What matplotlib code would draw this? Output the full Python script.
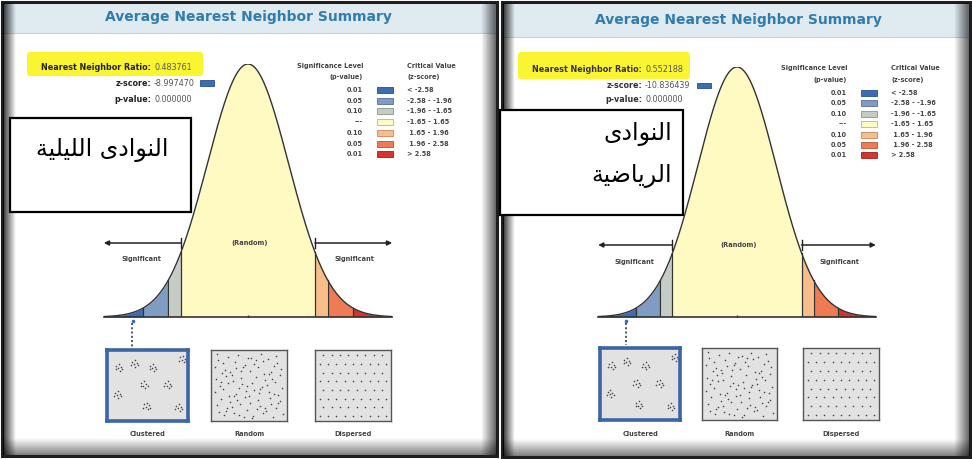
import numpy as np
import matplotlib
matplotlib.use("Agg")
import matplotlib.pyplot as plt
from matplotlib.patches import Rectangle, FancyBboxPatch


TITLE = "Average Nearest Neighbor Summary"
NN_RATIOS = [0.483761, 0.552188]
Z_SCORES = [-8.997470, -10.836439]
P_VALUES = [0.000000, 0.000000]
BOX_LABELS = [["النوادى الليلية"], ["النوادى", "الرياضية"]]

SIG_LEVELS = ["0.01", "0.05", "0.10", "---", "0.10", "0.05", "0.01"]
CRIT_LABELS = ["< -2.58", "-2.58 - -1.96", "-1.96 - -1.65", "-1.65 - 1.65",
               " 1.65 - 1.96", " 1.96 - 2.58", "> 2.58"]
CRIT_BREAKS = [-2.58, -1.96, -1.65, 1.65, 1.96, 2.58]
BIN_COLORS = ["#3a6db5", "#7f9cc3", "#c5ccc6", "#fffac2",
              "#f9bd8a", "#ee7b52", "#d5342a"]
BIN_EDGES = ["#28508a", "#566f93", "#8c928d", "#b8b48a",
             "#c08a5f", "#b45638", "#9a2019"]
PATTERN_LABELS = ["Clustered", "Random", "Dispersed"]

W, H = 972, 459
TITLE_COLOR = "#2f7db0"
TEXT_GRAY = "#555555"

# layout of the two screenshots, in pixels
PANELS = [
    dict(x0=2, x1=497, y1=456, band=33, title_x=248, title_y=17,
         hl=(27, 52, 203, 76), lab_x=151, rows=(67, 83, 99), zbox=(200, 80, 214, 86),
         box=(10, 118, 191, 212), text_x=102, text_ys=[150], text_ha="center",
         cx=248, s=40.6, yb=317, yp=64, arrow_y=243, sig_y=259,
         leg_x=363, leg_y0=90, leg_dy=10.7, head_y=(66, 77),
         thumbs=[(107, 188), (211, 287), (315, 391)], thumb_y=(350, 421),
         thumb_label_y=434, dot_x=132),
    dict(x0=502, x1=970, y1=457, band=37, title_x=738, title_y=20,
         hl=(518, 52, 690, 79), lab_x=642, rows=(70, 85, 100), zbox=(697, 83, 711, 88),
         box=(500, 110, 683, 215), text_x=672, text_ys=[134, 176], text_ha="right",
         cx=737, s=39.1, yb=317, yp=67, arrow_y=245, sig_y=262,
         leg_x=847, leg_y0=93, leg_dy=10.4, head_y=(68, 80),
         thumbs=[(600, 680), (702, 777), (803, 879)], thumb_y=(348, 420),
         thumb_label_y=434, dot_x=626),
]

# arabic presentation forms: isolated, final, initial, medial
FORMS = {
    "ا": ("\uFE8D", "\uFE8E", None, None),
    "ل": ("\uFEDD", "\uFEDE", "\uFEDF", "\uFEE0"),
    "ن": ("\uFEE5", "\uFEE6", "\uFEE7", "\uFEE8"),
    "و": ("\uFEED", "\uFEEE", None, None),
    "د": ("\uFEA9", "\uFEAA", None, None),
    "ى": ("\uFEEF", "\uFEF0", None, None),
    "ي": ("\uFEF1", "\uFEF2", "\uFEF3", "\uFEF4"),
    "ة": ("\uFE93", "\uFE94", None, None),
    "ر": ("\uFEAD", "\uFEAE", None, None),
    "ض": ("\uFEBD", "\uFEBE", "\uFEBF", "\uFEC0"),
}


def shape_arabic(text):
    out = []
    for i, ch in enumerate(text):
        if ch not in FORMS:
            out.append(ch)
            continue
        prev = text[i - 1] if i > 0 else ""
        nxt = text[i + 1] if i + 1 < len(text) else ""
        join_prev = prev in FORMS and FORMS[prev][2] is not None
        join_next = nxt in FORMS and FORMS[ch][2] is not None
        iso, fin, ini, med = FORMS[ch]
        if join_prev and join_next:
            out.append(med)
        elif join_prev:
            out.append(fin)
        elif join_next:
            out.append(ini)
        else:
            out.append(iso)
    return "".join(reversed(out))


def fig_rect(x0, y0, x1, y1):
    return [x0 / W, 1 - y1 / H, (x1 - x0) / W, (y1 - y0) / H]


def pdf(z):
    return np.exp(-0.5 * z ** 2) / np.sqrt(2 * np.pi)


def shade(ax, x0, y0, x1, y1, direction, a0, a1):
    n = 64
    ramp = np.linspace(a0, a1, n)
    img = np.zeros((1, n, 4)) if direction == "h" else np.zeros((n, 1, 4))
    if direction == "h":
        img[0, :, 3] = ramp
    else:
        img[:, 0, 3] = ramp
    ax.imshow(img, extent=(x0, x1, y1, y0), aspect="auto", interpolation="bilinear",
              zorder=3)


def dot_patterns():
    centers = [(0.14, 0.74), (0.33, 0.80), (0.56, 0.74), (0.93, 0.86), (0.45, 0.50),
               (0.74, 0.50), (0.12, 0.36), (0.48, 0.20), (0.88, 0.18)]
    offsets = [(0, 0), (0.035, 0.02), (-0.025, 0.035), (0.02, -0.035),
               (-0.035, -0.01), (0.01, 0.06), (0.05, -0.01)]
    clustered = np.array([(cx + ox, cy + oy) for cx, cy in centers for ox, oy in offsets])

    def halton(i, b):
        f, r = 1.0, 0.0
        while i > 0:
            f /= b
            r += f * (i % b)
            i //= b
        return r
    rnd = np.array([(0.04 + 0.92 * halton(i, 2), 0.04 + 0.92 * halton(i, 3))
                    for i in range(1, 95)])

    disp = []
    for r in range(8):
        for c in range(9):
            disp.append((0.06 + c * 0.11 + (0.05 if r % 2 else 0), 0.07 + r * 0.122))
    disp = np.array(disp)
    disp = disp[disp[:, 0] < 0.97]
    return [clustered, rnd, disp]


fig = plt.figure(figsize=(W / 100, H / 100), dpi=100)
fig.patch.set_facecolor("white")
bg = fig.add_axes([0, 0, 1, 1])
bg.set_xlim(0, W)
bg.set_ylim(H, 0)
bg.axis("off")

patterns = dot_patterns()

for k, p in enumerate(PANELS):
    x0, x1, y1 = p["x0"], p["x1"], p["y1"]
    y0 = 2
    bg.add_patch(Rectangle((x0, y0), x1 - x0, y1 - y0, facecolor="white",
                           edgecolor="#1e1e1e", lw=2.2, zorder=1))
    bg.add_patch(Rectangle((x0 + 2, y0 + 2), x1 - x0 - 4, p["band"] - y0 - 2,
                           facecolor="#dfeaf1", edgecolor="none", zorder=2))
    bg.plot([x0 + 2, x1 - 2], [p["band"], p["band"]], color="#c3d2db", lw=0.8, zorder=2)
    shade(bg, x0 + 1, y0 + 1, x0 + 13, y1 - 1, "h", 0.8, 0.0)
    shade(bg, x1 - 16, y0 + 1, x1 - 1, y1 - 1, "h", 0.0, 0.6)
    shade(bg, x0 + 1, y1 - 18, x1 - 1, y1 - 1, "v", 0.0, 0.5)

    bg.text(p["title_x"], p["title_y"], TITLE, ha="center", va="center",
            fontsize=10, fontweight="bold", color=TITLE_COLOR, zorder=4)

    hx0, hy0, hx1, hy1 = p["hl"]
    bg.add_patch(FancyBboxPatch((hx0 + 3, hy0 + 3), hx1 - hx0 - 6, hy1 - hy0 - 6,
                                boxstyle="round,pad=3", facecolor="#fbf531",
                                edgecolor="none", zorder=4))

    labels = ["Nearest Neighbor Ratio:", "z-score:", "p-value:"]
    values = [f"{NN_RATIOS[k]:.6f}", f"{Z_SCORES[k]:.6f}", f"{P_VALUES[k]:.6f}"]
    for lab, val, yy in zip(labels, values, p["rows"]):
        bg.text(p["lab_x"], yy, lab, ha="right", va="center", fontsize=5.8,
                fontweight="bold", color="#222222" if k == 0 else "#333333", zorder=5)
        bg.text(p["lab_x"] + 3, yy, val, ha="left", va="center", fontsize=5.8,
                color=TEXT_GRAY, zorder=5)
    z_bin = int(np.searchsorted(CRIT_BREAKS, Z_SCORES[k]))
    zx0, zy0, zx1, zy1 = p["zbox"]
    bg.add_patch(Rectangle((zx0, zy0), zx1 - zx0, zy1 - zy0, facecolor=BIN_COLORS[z_bin],
                           edgecolor=BIN_EDGES[z_bin], lw=0.6, zorder=5))

    # legend
    lx = p["leg_x"]
    bg.text(lx, p["head_y"][0], "Significance Level", ha="right", va="center",
            fontsize=4.7, fontweight="bold", color="#444444", zorder=5)
    bg.text(lx, p["head_y"][1], "(p-value)", ha="right", va="center",
            fontsize=4.7, fontweight="bold", color="#444444", zorder=5)
    bg.text(lx + 44, p["head_y"][0], "Critical Value", ha="left", va="center",
            fontsize=4.7, fontweight="bold", color="#444444", zorder=5)
    bg.text(lx + 44, p["head_y"][1], "(z-score)", ha="left", va="center",
            fontsize=4.7, fontweight="bold", color="#444444", zorder=5)
    for i, (lev, crit) in enumerate(zip(SIG_LEVELS, CRIT_LABELS)):
        yy = p["leg_y0"] + i * p["leg_dy"]
        bg.text(lx, yy, lev, ha="right", va="center", fontsize=4.7,
                fontweight="bold", color="#444444", zorder=5)
        bg.add_patch(Rectangle((lx + 14, yy - 3), 16, 6, facecolor=BIN_COLORS[i],
                               edgecolor=BIN_EDGES[i], lw=0.6, zorder=5))
        bg.text(lx + 44, yy, crit, ha="left", va="center", fontsize=4.7,
                fontweight="bold", color="#444444", zorder=5)

    # bell curve
    zr = 3.55
    cax = fig.add_axes(fig_rect(p["cx"] - zr * p["s"], p["yp"], p["cx"] + zr * p["s"], p["yb"]))
    cax.set_xlim(-zr, zr)
    cax.set_ylim(0, pdf(0))
    cax.axis("off")
    cax.patch.set_alpha(0)
    zz = np.linspace(-zr, zr, 600)
    edges = [-zr] + CRIT_BREAKS + [zr]
    for i in range(len(BIN_COLORS)):
        m = (zz >= edges[i]) & (zz <= edges[i + 1])
        cax.fill_between(zz[m], 0, pdf(zz[m]), color=BIN_COLORS[i], lw=0)
    for b in CRIT_BREAKS:
        cax.plot([b, b], [0, pdf(b)], color="#333333", lw=0.9)
    cax.plot(zz, pdf(zz), color="#333333", lw=1.0)
    cax.plot([-zr, zr], [0, 0], color="#333333", lw=1.2, clip_on=False)
    cax.plot([0], [0], marker="|", color="#333333", ms=3, mew=1)

    ay = pdf(0) * (p["yb"] - p["arrow_y"]) / (p["yb"] - p["yp"])
    sy = pdf(0) * (p["yb"] - p["sig_y"]) / (p["yb"] - p["yp"])
    lo, hi = CRIT_BREAKS[2], CRIT_BREAKS[3]
    cax.annotate("", xy=(-zr, ay), xytext=(lo, ay),
                 arrowprops=dict(arrowstyle="-|>", color="#222222", lw=1.1,
                                 mutation_scale=7, shrinkA=0, shrinkB=0))
    cax.annotate("", xy=(zr, ay), xytext=(hi, ay),
                 arrowprops=dict(arrowstyle="-|>", color="#222222", lw=1.1,
                                 mutation_scale=7, shrinkA=0, shrinkB=0))
    cax.plot([lo, lo], [ay - 0.008, ay + 0.008], color="#222222", lw=1.0)
    cax.plot([hi, hi], [ay - 0.008, ay + 0.008], color="#222222", lw=1.0)
    cax.text(0.05, ay, "(Random)", ha="center", va="center", fontsize=4.8,
             fontweight="bold", color="#444444")
    cax.text(-2.62, sy, "Significant", ha="center", va="center", fontsize=4.8,
             fontweight="bold", color="#444444")
    cax.text(2.62, sy, "Significant", ha="center", va="center", fontsize=4.8,
             fontweight="bold", color="#444444")
    zpos = float(np.clip(Z_SCORES[k], -2.84, 2.84))
    cax.plot([zpos], [-0.006], marker="o", ms=1.6, color="#3a6db5", clip_on=False)

    bg.plot([p["dot_x"], p["dot_x"]], [323, p["thumb_y"][0] - 3], color="#445566",
            lw=1.4, ls=(0, (1, 1.2)), zorder=5)

    # thumbnails
    ty0, ty1 = p["thumb_y"]
    for j, (tx0, tx1) in enumerate(p["thumbs"]):
        tax = fig.add_axes(fig_rect(tx0, ty0, tx1, ty1))
        tax.set_xlim(0, 1)
        tax.set_ylim(0, 1)
        tax.set_xticks([])
        tax.set_yticks([])
        tax.set_facecolor("#e2e2e2")
        for sp in tax.spines.values():
            if j == 0:
                sp.set_color("#3a66a6")
                sp.set_linewidth(2.6)
            else:
                sp.set_color("#555555")
                sp.set_linewidth(1.0)
        pts = patterns[j]
        tax.scatter(pts[:, 0], pts[:, 1], s=1.3, color="#444444", lw=0)
        bg.text((tx0 + tx1) / 2, p["thumb_label_y"], PATTERN_LABELS[j], ha="center",
                va="center", fontsize=4.8, fontweight="bold", color="#444444", zorder=5)

    # arabic label box
    bx0, by0, bx1, by1 = p["box"]
    bg.add_patch(Rectangle((bx0, by0), bx1 - bx0, by1 - by0, facecolor="white",
                           edgecolor="black", lw=1.6, zorder=6))
    for line, yy in zip(BOX_LABELS[k], p["text_ys"]):
        bg.text(p["text_x"], yy, shape_arabic(line), ha=p["text_ha"], va="center",
                fontsize=17, color="black", family="DejaVu Sans", zorder=7)

fig.savefig("out.png", dpi=100)
